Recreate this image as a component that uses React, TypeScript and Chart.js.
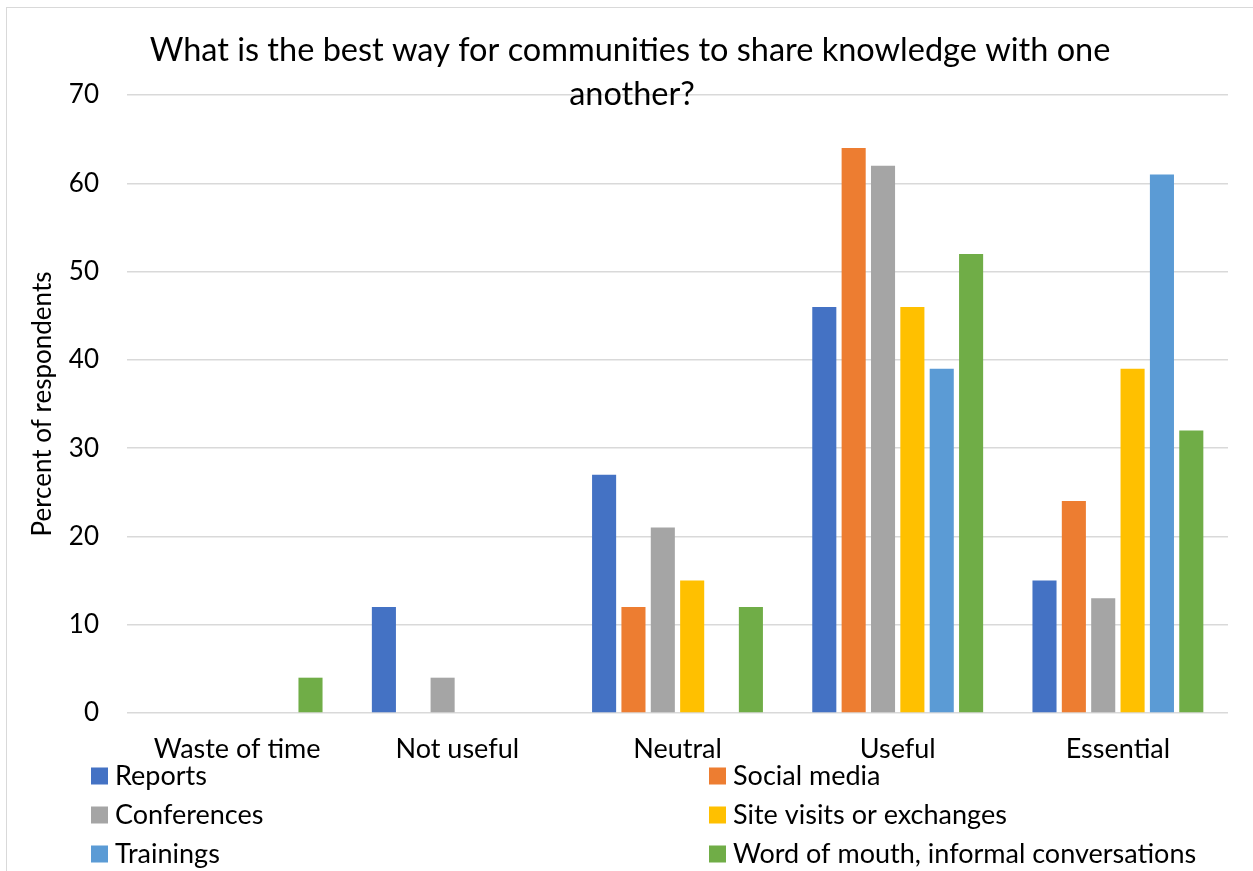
import React, { useEffect, useRef } from "react";
import { Chart, registerables } from "chart.js";

Chart.register(...registerables);

const categories = ["Waste of time", "Not useful", "Neutral", "Useful", "Essential"];
const seriesNames = [
  "Reports",
  "Social media",
  "Conferences",
  "Site visits or exchanges",
  "Trainings",
  "Word of mouth, informal conversations",
];
const reports = [0, 12, 27, 46, 15];
const socialMedia = [0, 0, 12, 64, 24];
const conferences = [0, 4, 21, 62, 13];
const siteVisits = [0, 0, 15, 46, 39];
const trainings = [0, 0, 0, 39, 61];
const wordOfMouth = [4, 0, 12, 52, 32];
const seriesValues = [reports, socialMedia, conferences, siteVisits, trainings, wordOfMouth];
const seriesColors = ["#4472C4", "#ED7D31", "#A5A5A5", "#FFC000", "#5B9BD5", "#70AD47"];
const titleLines = ["What is the best way for communities to share knowledge with one", "another?"];
const yAxisTitle = "Percent of respondents";

const FONT = "Lato";

const titlePlugin = {
  id: "customTitle",
  afterDraw(chart: any) {
    const ctx = chart.ctx;
    ctx.save();
    ctx.fillStyle = "#000000";
    ctx.font = `32.5px ${FONT}`;
    ctx.textAlign = "center";
    ctx.textBaseline = "middle";
    ctx.fillText(titleLines[0], 630, 51);
    ctx.fillText(titleLines[1], 632, 95);
    ctx.restore();
  },
};

const legendPlugin = {
  id: "customLegend",
  afterDraw(chart: any) {
    const ctx = chart.ctx;
    ctx.save();
    ctx.font = `27px ${FONT}`;
    ctx.textBaseline = "middle";
    ctx.textAlign = "left";
    const colX = [91, 709];
    const rowY = [776, 815, 854];
    seriesNames.forEach((name, i) => {
      const x = colX[i % 2];
      const y = rowY[Math.floor(i / 2)];
      ctx.fillStyle = seriesColors[i];
      ctx.fillRect(x, y - 8.5, 17, 17);
      ctx.fillStyle = "#000000";
      ctx.fillText(name, x + 24, y);
    });
    ctx.restore();
  },
};

export default function App() {
  const ref = useRef<HTMLCanvasElement>(null);
  useEffect(() => {
    if (!ref.current) return;
    const chart = new Chart(ref.current, {
      type: "bar",
      data: {
        labels: categories,
        datasets: seriesNames.map((name, i) => ({
          label: name,
          data: seriesValues[i],
          backgroundColor: seriesColors[i],
          borderWidth: 0,
          categoryPercentage: 0.8,
          barPercentage: 0.82,
        })),
      },
      options: {
        animation: false,
        responsive: false,
        devicePixelRatio: 1,
        layout: { padding: { left: 0, top: 95, right: 25, bottom: 0 } },
        plugins: {
          legend: { display: false },
          title: { display: false },
          tooltip: { enabled: false },
        },
        scales: {
          x: {
            grid: { display: false, drawTicks: false },
            border: { display: false },
            ticks: { color: "#000000", font: { family: FONT, size: 27 }, padding: 20, maxRotation: 0 },
            afterFit(scale: any) {
              scale.height = 158;
            },
          },
          y: {
            min: 0,
            max: 70,
            ticks: { stepSize: 10, color: "#000000", font: { family: FONT, size: 26 }, padding: 28 },
            grid: { color: "#d9d9d9", lineWidth: 1.5, drawTicks: false },
            border: { display: false },
            title: {
              display: true,
              text: yAxisTitle,
              color: "#000000",
              font: { family: FONT, size: 26 },
              padding: { top: 27, bottom: 0 },
            },
            afterFit(scale: any) {
              scale.width = 127;
            },
          },
        },
      },
      plugins: [titlePlugin, legendPlugin],
    });
    return () => chart.destroy();
  }, []);
  return (
    <div style={{ position: "fixed", left: 0, top: 0, width: 1253, height: 871, background: "#fff" }}>
      <div
        style={{
          position: "absolute",
          left: 6,
          top: 7,
          width: 1260,
          height: 880,
          borderTop: "1.5px solid #d9d9d9",
          borderLeft: "1.5px solid #d9d9d9",
        }}
      />
      <canvas ref={ref} width={1253} height={871} style={{ position: "absolute", left: 0, top: 0 }} />
    </div>
  );
}
